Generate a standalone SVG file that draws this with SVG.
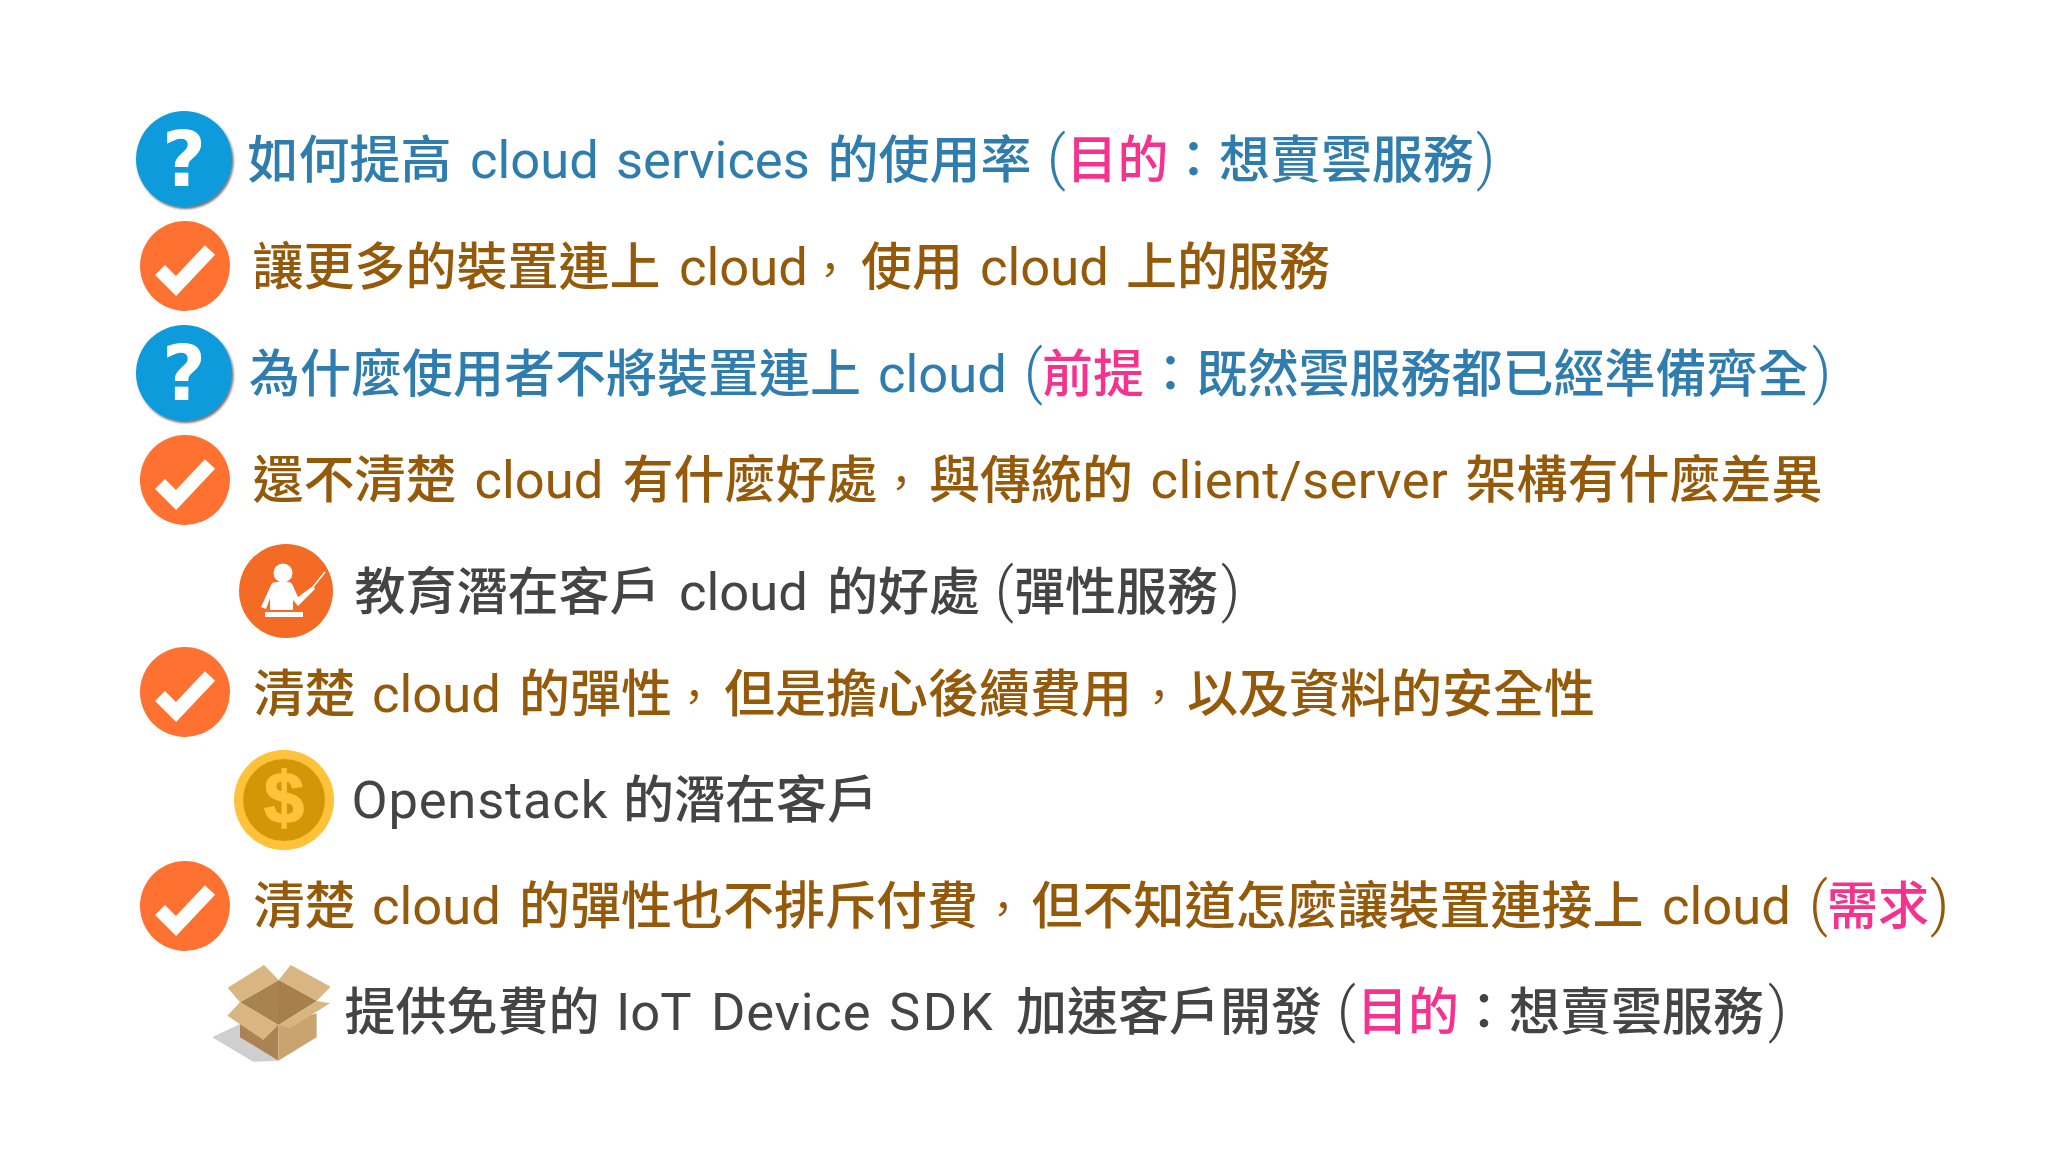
<svg xmlns="http://www.w3.org/2000/svg" width="2048" height="1152" viewBox="0 0 2048 1152">
<style>
text{font-family:"Noto Sans CJK TC","Roboto",sans-serif;font-size:51px;font-weight:500;white-space:pre}
.l{font-family:"Roboto","Noto Sans CJK TC",sans-serif;font-size:52.5px;font-weight:400}
.w{letter-spacing:.8px}
.pa{font-family:"Roboto",sans-serif;font-size:59px;font-weight:300}
.c{font-size:42px;font-weight:400}
.b{fill:#2f7cae}.o{fill:#95590a}.d{fill:#444}.p{fill:#f5338f}
.qc{fill:#0e9bdb}.ck{fill:#ff7130}
.qm{font-family:"DejaVu Sans",sans-serif;font-weight:700;font-size:76px;fill:#fff;text-anchor:middle}
.tick{fill:none;stroke:#fff;stroke-width:14}
</style>
<defs>
<filter id="sh" x="-10%" y="-10%" width="125%" height="125%"><feDropShadow dx="1.5" dy="2" stdDeviation="1.2" flood-color="#333" flood-opacity="0.7"/></filter>
<g id="check"><circle r="45" class="ck"/><path class="tick" d="M-25 4 L-9 20 L25 -16"/></g>
<g id="q"><circle r="48" class="qc" filter="url(#sh)"/><text class="qm" y="27" x="0">?</text></g>
</defs>
<rect width="2048" height="1152" fill="#fff"/>
<g id="row1"><use href="#q" x="184" y="159"/><text class="b" y="178"><tspan x="247.5">如何提高</tspan><tspan class="l" x="470">cloud</tspan><tspan class="l" x="616">services</tspan><tspan x="827.5">的使用率</tspan><tspan class="pa" x="1047">(</tspan><tspan x="1066.5" class="p">目的</tspan><tspan x="1168">：</tspan><tspan x="1219">想賣雲服務</tspan><tspan class="pa" x="1476">)</tspan></text></g>
<g id="row2"><use href="#check" x="185" y="266"/><text class="o" y="285"><tspan x="252.5">讓更多的裝置連上</tspan><tspan class="l" x="679">cloud</tspan><tspan class="c" x="809">，</tspan><tspan x="861">使用</tspan><tspan class="l" x="980">cloud</tspan><tspan x="1126">上的服務</tspan></text></g>
<g id="row3"><use href="#q" x="184" y="373"/><text class="b" y="391.5"><tspan x="249">為什麼使用者不將裝置連上</tspan><tspan class="l" x="878">cloud</tspan><tspan class="pa" x="1024">(</tspan><tspan x="1042" class="p">前提</tspan><tspan x="1145">：</tspan><tspan x="1196.5">既然雲服務都已經準備齊全</tspan><tspan class="pa" x="1812">)</tspan></text></g>
<g id="row4"><use href="#check" x="185" y="480"/><text class="o" y="497.5"><tspan x="252.5">還不清楚</tspan><tspan class="l" x="474.5">cloud</tspan><tspan x="622.5">有什麼好處</tspan><tspan class="c" x="880">，</tspan><tspan x="929">與傳統的</tspan><tspan class="l" x="1150.5" style="letter-spacing:.4px">client/server</tspan><tspan x="1465.5">架構有什麼差異</tspan></text></g>
<g id="row5"><circle cx="286" cy="591" r="47" fill="#f46b25"/>
<circle cx="283" cy="573" r="9.5" fill="#fff"/><path d="M272 583 Q274 582 278 582 L288 582 Q292 582 293 586 L298 597 L313 586 L315 589 L298 606 L293 600 L293 610 L270 610 L270 598 L266 609 L261 607 Z" fill="#fff"/><rect x="265" y="612" width="38" height="5" fill="#fff"/><path d="M313 587 L325 572" stroke="#fff" stroke-width="1.5"/>
<text class="d" y="609.5"><tspan x="354.5">教育潛在客戶</tspan><tspan class="l" x="679">cloud</tspan><tspan x="827">的好處</tspan><tspan class="pa" x="995">(</tspan><tspan x="1014">彈性服務</tspan><tspan class="pa" x="1221">)</tspan></text></g>
<g id="row6"><use href="#check" x="185" y="692"/><text class="o" y="711.5"><tspan x="253.5">清楚</tspan><tspan class="l" x="372">cloud</tspan><tspan x="519">的彈性</tspan><tspan class="c" x="673">，</tspan><tspan x="724">但是擔心後續費用</tspan><tspan class="c" x="1138">，</tspan><tspan x="1187">以及資料的安全性</tspan></text></g>
<g id="row7"><circle cx="284" cy="800" r="50" fill="#ffc23a"/><circle cx="284" cy="800" r="41" fill="#d39606"/><text x="284" y="823" text-anchor="middle" stroke="#ffc23a" stroke-width="1.5" style="font-family:'Liberation Sans',sans-serif;font-weight:700;font-size:72px;fill:#ffc23a">$</text>
<text class="d" y="817.5"><tspan class="l w" x="351.5">Openstack</tspan><tspan x="623">的潛在客戶</tspan></text></g>
<g id="row8"><use href="#check" x="185" y="906"/><text class="o" y="924"><tspan x="253.5">清楚</tspan><tspan class="l" x="372">cloud</tspan><tspan x="519">的彈性也不排斥付費</tspan><tspan class="c" x="982">，</tspan><tspan x="1031.5">但不知道怎麼讓裝置連接上</tspan><tspan class="l" x="1662">cloud</tspan><tspan class="pa" x="1809">(</tspan><tspan x="1827" class="p">需求</tspan><tspan class="pa" x="1930">)</tspan></text></g>
<g id="row9" transform="translate(200 950) scale(.3333)"><path d="M120 222 L36 262 L160 335 L235 332 L150 280 Z" fill="#cfcfcf"/>
<path d="M120 157 L236 90 L350 153 L235 225 Z" fill="#a8824f"/><path d="M236 90 L350 153 L235 225 Z" fill="#a67f4d"/>
<path d="M120 190 L235 225 L235 332 L120 262 Z" fill="#ab8353"/><path d="M235 225 L350 190 L350 262 L235 332 Z" fill="#c9a46f"/>
<path d="M83 113 L192 45 L236 90 L120 157 Z" fill="#d9b582"/><path d="M236 90 L272 45 L392 110 L350 153 Z" fill="#d9b582"/>
<path d="M120 157 L82 197 L190 270 L235 225 Z" fill="#d9b582"/><path d="M350 153 L390 160 L270 235 L235 225 Z" fill="#d9b582"/></g>
<g id="row9t"><text class="d" y="1030"><tspan x="344.5">提供免費的</tspan><tspan class="l" x="616">IoT</tspan><tspan class="l w" x="711">Device</tspan><tspan class="l w" style="letter-spacing:2.5px" x="889">SDK</tspan><tspan x="1016">加速客戶開發</tspan><tspan class="pa" x="1337">(</tspan><tspan x="1357" class="p">目的</tspan><tspan x="1458.5">：</tspan><tspan x="1509">想賣雲服務</tspan><tspan class="pa" x="1768">)</tspan></text></g>
</svg>
